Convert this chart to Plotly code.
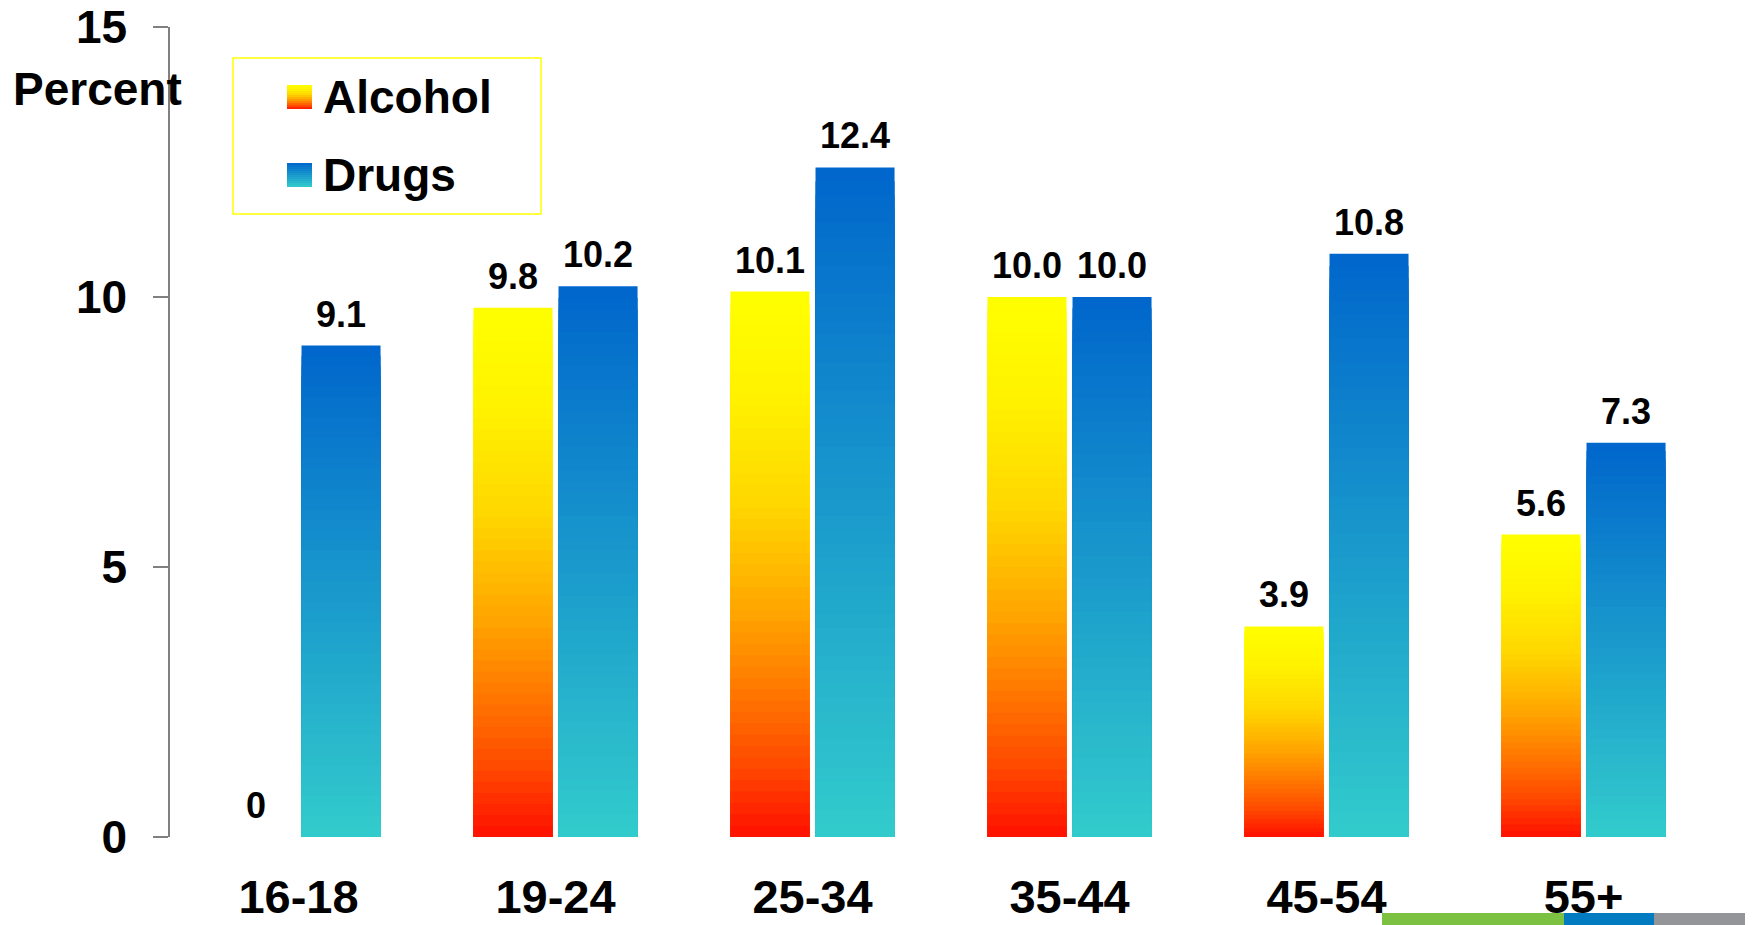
import plotly.graph_objects as go

# ---- data -------------------------------------------------------------
age_groups = ["16-18", "19-24", "25-34", "35-44", "45-54", "55+"]
alcohol = [0, 9.8, 10.1, 10.0, 3.9, 5.6]
drugs = [9.1, 10.2, 12.4, 10.0, 10.8, 7.3]
y_ticks = [0, 5, 10, 15]
series_names = ["Alcohol", "Drugs"]

# ---- page geometry ----------------------------------------------------
W, H = 1752, 925
M_L, M_R, M_T, M_B = 170, 40, 27, 88
BARGAP, BARGROUPGAP = 0.338, 0.071
FONT = "Liberation Sans, Arial, Helvetica, sans-serif"
N_STEPS = 48  # vertical colour steps per bar

# colour stops, t = 0 at the bar base, t = 1 at the bar top
ALCOHOL_STOPS = [(0.0, (255, 15, 0)), (0.135, (255, 75, 0)), (0.27, (255, 120, 0)),
                 (0.41, (255, 165, 0)), (0.61, (255, 215, 0)), (0.81, (255, 242, 0)),
                 (1.0, (255, 255, 0))]
DRUG_STOPS = [(0.0, (51, 204, 204)), (1.0, (0, 102, 204))]


def ramp(stops, t):
    for (t0, c0), (t1, c1) in zip(stops, stops[1:]):
        if t <= t1:
            f = (t - t0) / (t1 - t0) if t1 > t0 else 0
            rgb = [round(a + (b - a) * f) for a, b in zip(c0, c1)]
            return "rgb({},{},{})".format(*rgb)
    return "rgb({},{},{})".format(*stops[-1][1])


def label(v):
    return "0" if v == 0 else f"{v:.1f}"


fig = go.Figure()

# Each bar is a pile of overlapping bars from the base: the tallest one
# carries the top colour, shorter ones paint the lower part of the ramp.
for name, values, stops in [("alc", alcohol, ALCOHOL_STOPS), ("drug", drugs, DRUG_STOPS)]:
    for k in range(N_STEPS):
        frac = (N_STEPS - k) / N_STEPS
        t_mid = (N_STEPS - k - 0.5) / N_STEPS
        fig.add_trace(go.Bar(
            x=age_groups,
            y=[v * frac for v in values],
            offsetgroup=name,
            marker=dict(color=ramp(stops, t_mid), line=dict(width=0)),
            showlegend=False,
            hoverinfo="skip",
        ))

# value labels above the bars
slot = (1 - BARGAP) / 2
annotations = []
for offset, values in [(-slot / 2, alcohol), (slot / 2, drugs)]:
    for i, v in enumerate(values):
        annotations.append(dict(
            x=i + offset, y=v, xref="x", yref="y",
            text=label(v), showarrow=False,
            xanchor="center", yanchor="bottom", yshift=9,
            font=dict(family=FONT, size=36, color="black", weight="bold"),
        ))

# axis title written horizontally at the top-left
annotations.append(dict(
    x=0, y=1, xref="paper", yref="paper", xshift=-73, yshift=-62,
    xanchor="center", yanchor="middle", text="Percent", showarrow=False,
    font=dict(family=FONT, size=46, color="black", weight="bold"),
))

# legend (box, gradient swatches, names), positioned in pixels from the plot's top-left
shapes = []
LEG_BOX = (63, 371, 31, 187)  # x0, x1, y0, y1 (px right of / below the plot corner)
shapes.append(dict(type="rect", xref="paper", yref="paper",
                   xsizemode="pixel", ysizemode="pixel", xanchor=0, yanchor=1,
                   x0=LEG_BOX[0], x1=LEG_BOX[1], y0=-LEG_BOX[2], y1=-LEG_BOX[3],
                   line=dict(color="#FFFF00", width=1.5), fillcolor="rgba(0,0,0,0)",
                   layer="above"))
SW_X = (117, 142)
SW_SIZE = 24
legend_rows = [(series_names[0], ALCOHOL_STOPS, 70), (series_names[1], DRUG_STOPS, 148)]
SW_STEPS = 12
for text, stops, cy in legend_rows:
    top = cy - SW_SIZE / 2
    for s in range(SW_STEPS):
        y_a = top + SW_SIZE * s / SW_STEPS
        y_b = top + SW_SIZE * (s + 1) / SW_STEPS + 0.4
        t = 1 - (s + 0.5) / SW_STEPS
        shapes.append(dict(type="rect", xref="paper", yref="paper",
                           xsizemode="pixel", ysizemode="pixel", xanchor=0, yanchor=1,
                           x0=SW_X[0], x1=SW_X[1], y0=-y_a, y1=-min(y_b, top + SW_SIZE),
                           line=dict(width=0), fillcolor=ramp(stops, t), layer="above"))
    annotations.append(dict(
        x=0, y=1, xref="paper", yref="paper", xshift=151, yshift=-cy,
        xanchor="left", yanchor="middle", text=text, showarrow=False,
        font=dict(family=FONT, size=46, color="black", weight="bold"),
    ))

# coloured strip along the bottom edge
for c, x0, x1 in [("#7DC142", 1212, 1394), ("#037BC1", 1394, 1484), ("#939598", 1484, 1575)]:
    shapes.append(dict(type="rect", xref="paper", yref="paper",
                       xsizemode="pixel", ysizemode="pixel", xanchor=0, yanchor=1,
                       x0=x0, x1=x1, y0=-886, y1=-898,
                       line=dict(width=0), fillcolor=c, layer="above"))

fig.update_layout(
    width=W, height=H,
    margin=dict(l=M_L, r=M_R, t=M_T, b=M_B, pad=0, autoexpand=False),
    paper_bgcolor="white", plot_bgcolor="white",
    barmode="group", bargap=BARGAP, bargroupgap=BARGROUPGAP,
    showlegend=False,
    annotations=annotations,
    shapes=shapes,
    xaxis=dict(
        type="category", range=[-0.5, len(age_groups) - 0.5],
        automargin=False,
        showline=False, showgrid=False, zeroline=False, ticks="",
        tickfont=dict(family=FONT, size=47, color="black", weight="bold"),
        ticklabelstandoff=28,
    ),
    yaxis=dict(
        range=[0, 15], tickmode="array", tickvals=y_ticks,
        automargin=False,
        showline=True, linecolor="#808080", linewidth=1.5,
        ticks="outside", ticklen=15, tickwidth=1.5, tickcolor="#808080",
        showgrid=False, zeroline=False,
        tickfont=dict(family=FONT, size=46, color="black", weight="bold"),
        ticklabelstandoff=17,
    ),
)

fig.write_html("out.html")
